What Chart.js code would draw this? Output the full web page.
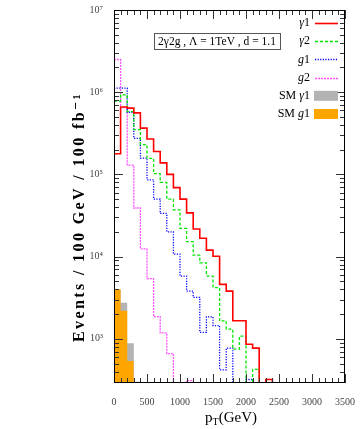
<!DOCTYPE html>
<html>
<head>
<meta charset="utf-8">
<script src="https://cdn.jsdelivr.net/npm/chart.js@4"></script>
<style>
  html, body { margin: 0; padding: 0; background: #fff; }
  canvas { display: block; }
</style>
</head>
<body>
<canvas id="pt-chart" width="360" height="429"></canvas>
<script>
// bins of 100 GeV starting at 0, events / 100 GeV / 100 fb^-1 (0 = empty bin)
const binWidth = 100;
const gamma1 = [1.78e5, 6.6e5, 6.4e5, 5.6e5, 3.66e5, 2.7e5, 1.9e5, 1.38e5, 1.0e5, 6.9e4,
                5.0e4, 3.4e4, 2.17e4, 1.67e4, 1.2e4, 1.01e4, 4.6e3, 3.8e3, 1.66e3, 1.66e3,
                860, 770, 0, 320, 0, 0, 0, 0, 0, 0, 0, 0, 0];
const gamma2 = [7.8e5, 9.3e5, 5.8e5, 3.5e5, 2.3e5, 1.57e5, 1.02e5, 8.0e4, 5.0e4, 3.7e4,
                2.2e4, 1.52e4, 1.04e4, 8.4e3, 5.8e3, 4.2e3, 1.65e3, 1.31e3, 750, 1.08e3,
                0, 425, 0, 0, 0, 0, 0, 0, 0, 0];
const gluon1 = [1.12e6, 1.12e6, 5.7e5, 2.75e5, 1.58e5, 8.6e4, 5.0e4, 3.35e4, 2.0e4, 1.07e4,
                5.8e3, 3.8e3, 3.2e3, 1.2e3, 1.85e3, 1.45e3, 420, 770, 0, 0, 320, 0, 0];
const gluon2 = [2.5e6, 6.5e5, 1.3e5, 3.9e4, 1.24e4, 5.4e3, 1.86e3, 1.18e3, 660, 0, 0, 310, 0];
const smGamma1 = [3.9e3, 2.74e3, 885, 300];
const smGluon1 = [4.0e3, 2.2e3, 537];

const xMax = 3500;
const xLabelStep = 500;
const yMin = 290;
const yMax = 1e7;
const yDecades = [1e3, 1e4, 1e5, 1e6, 1e7];
const yTickLabels = ['10³', '10⁴', '10⁵', '10⁶', '10⁷'];
const infoText = '2γ2g , Λ = 1TeV , d = 1.1';
const yTitle = 'Events / 100 GeV / 100 fb⁻¹';

const serif = '"Liberation Serif", "DejaVu Serif", serif';

// histogram -> points for a stepped line; empty bins sit on the axis floor
function steps(vals) {
    const pts = vals.map((v, i) => ({ x: i * binWidth, y: v > 0 ? v : yMin }));
    pts.push({ x: vals.length * binWidth, y: pts[pts.length - 1].y });
    return pts;
}

function lineSet(label, vals, color, dash, width) {
    return {
        label: label,
        data: steps(vals),
        stepped: 'before',
        borderColor: color,
        borderWidth: width,
        borderDash: dash,
        pointRadius: 0,
        fill: false,
        order: 0
    };
}

function fillSet(label, vals, color, order) {
    return {
        label: label,
        data: steps(vals),
        stepped: 'before',
        borderWidth: 0,
        borderColor: color,
        backgroundColor: color,
        pointRadius: 0,
        fill: 'start',
        order: order
    };
}

// draws mixed upright / italic text (γ and g in italic), right aligned
function drawMathLabel(ctx, text, xRight, y, size) {
    const runs = [];
    for (const ch of text) {
        const it = /[γg]/.test(ch);
        if (runs.length && runs[runs.length - 1].it === it) runs[runs.length - 1].t += ch;
        else runs.push({ t: ch, it: it });
    }
    const fontOf = (r) => (r.it ? 'italic ' : '') + size + 'px ' + serif;
    let total = 0;
    runs.forEach(r => { ctx.font = fontOf(r); r.w = ctx.measureText(r.t).width; total += r.w; });
    let x = xRight - total;
    ctx.textAlign = 'left';
    ctx.textBaseline = 'middle';
    runs.forEach(r => { ctx.font = fontOf(r); ctx.fillText(r.t, x, y); x += r.w; });
}

const decorations = {
    id: 'decorations',
    afterDraw(chart) {
        const ctx = chart.ctx;
        const a = chart.chartArea;
        const xs = chart.scales.x;
        const ys = chart.scales.y;
        ctx.save();

        // inward ticks on all four sides
        ctx.strokeStyle = '#333';
        ctx.lineWidth = 1;
        ctx.beginPath();
        for (let v = 0; v <= xMax; v += binWidth) {
            const px = Math.round(xs.getPixelForValue(v)) + 0.5;
            const len = v % xLabelStep === 0 ? 9 : 5;
            ctx.moveTo(px, a.bottom); ctx.lineTo(px, a.bottom - len);
            ctx.moveTo(px, a.top); ctx.lineTo(px, a.top + len);
        }
        for (const d of yDecades.concat([100])) {
            for (let m = 1; m <= 9; m++) {
                const v = m * d;
                if (v < yMin || v > yMax) continue;
                const py = Math.round(ys.getPixelForValue(v)) + 0.5;
                const len = m === 1 ? 9 : 5;
                ctx.moveTo(a.left, py); ctx.lineTo(a.left + len, py);
                ctx.moveTo(a.right, py); ctx.lineTo(a.right - len, py);
            }
        }
        ctx.stroke();

        // frame
        ctx.strokeStyle = '#000';
        ctx.strokeRect(Math.round(a.left) + 0.5, Math.round(a.top) + 0.5,
                       Math.round(a.right - a.left) - 1, Math.round(a.bottom - a.top) - 1);

        // info box
        ctx.font = '11.5px ' + serif;
        const tw = ctx.measureText(infoText).width;
        const bx = 217 - tw / 2 - 4;
        ctx.strokeStyle = '#555';
        ctx.strokeRect(Math.round(bx) + 0.5, 33.5, Math.round(tw + 8), 16);
        ctx.fillStyle = '#000';
        ctx.textAlign = 'center';
        ctx.textBaseline = 'middle';
        ctx.fillText(infoText, 217, 42);

        // legend
        chart.data.datasets.forEach((ds, i) => {
            const y = 23 + i * 18.2;
            ctx.fillStyle = '#000';
            drawMathLabel(ctx, ds.label, 310, y, 12);
            if (ds.fill) {
                ctx.fillStyle = ds.backgroundColor;
                ctx.fillRect(314, y - 5, 24, 10);
            } else {
                ctx.strokeStyle = ds.borderColor;
                ctx.lineWidth = ds.borderWidth;
                ctx.setLineDash(ds.borderDash || []);
                ctx.beginPath();
                ctx.moveTo(315, Math.round(y) + 0.5);
                ctx.lineTo(338, Math.round(y) + 0.5);
                ctx.stroke();
                ctx.setLineDash([]);
            }
        });

        // axis titles
        ctx.fillStyle = '#000';
        ctx.textBaseline = 'alphabetic';
        ctx.textAlign = 'left';
        ctx.font = '15px ' + serif;
        const p = 'p', rest = '(GeV)';
        const pw = ctx.measureText(p).width;
        const rw = ctx.measureText(rest).width;
        ctx.font = '10px ' + serif;
        const tW = ctx.measureText('T').width;
        let tx = 231 - (pw + tW + rw) / 2;
        ctx.font = '15px ' + serif;
        ctx.fillText(p, tx, 422);
        ctx.font = '10px ' + serif;
        ctx.fillText('T', tx + pw, 425);
        ctx.font = '15px ' + serif;
        ctx.fillText(rest, tx + pw + tW, 422);

        ctx.translate(80, 217);
        ctx.rotate(-Math.PI / 2);
        ctx.font = 'bold 16px ' + serif;
        const yw = ctx.measureText(yTitle).width;
        const spacing = Math.max(0, (250 - yw) / [...yTitle].length);
        ctx.letterSpacing = spacing.toFixed(2) + 'px';
        const yw2 = ctx.measureText(yTitle).width;
        ctx.textAlign = 'left';
        ctx.textBaseline = 'middle';
        ctx.fillText(yTitle, -yw2 / 2, 0);
        ctx.restore();
    }
};

new Chart(document.getElementById('pt-chart'), {
    type: 'line',
    data: {
        datasets: [
            lineSet('γ1', gamma1, '#ff0000', [], 1.6),
            lineSet('γ2', gamma2, '#00e600', [3, 2], 1.3),
            lineSet('g1', gluon1, '#0000ff', [1.2, 1.4], 1.3),
            lineSet('g2', gluon2, '#ff55ff', [2, 1], 1.3),
            fillSet('SM γ1', smGamma1, '#b3b3b3', 2),
            fillSet('SM g1', smGluon1, '#ffa500', 1)
        ]
    },
    options: {
        responsive: false,
        animation: false,
        devicePixelRatio: 1,
        layout: { padding: { left: 0, right: 12, top: 10, bottom: 0 } },
        plugins: {
            legend: { display: false },
            tooltip: { enabled: false }
        },
        scales: {
            x: {
                type: 'linear',
                min: 0,
                max: xMax,
                grid: { display: false },
                border: { display: false },
                afterFit: (scale) => { scale.height = 46; },
                ticks: {
                    stepSize: xLabelStep,
                    autoSkip: false,
                    maxRotation: 0,
                    padding: 5,
                    color: '#444',
                    font: { family: serif, size: 10 },
                    callback: (value) => String(value)
                }
            },
            y: {
                type: 'logarithmic',
                min: yMin,
                max: yMax,
                grid: { display: false },
                border: { display: false },
                afterFit: (scale) => { scale.width = 114; },
                afterBuildTicks: (scale) => { scale.ticks = yDecades.map(v => ({ value: v })); },
                ticks: {
                    padding: 3,
                    color: '#444',
                    font: { family: serif, size: 10 },
                    callback: (value, index) => yTickLabels[index]
                }
            }
        }
    },
    plugins: [decorations]
});
</script>
</body>
</html>
